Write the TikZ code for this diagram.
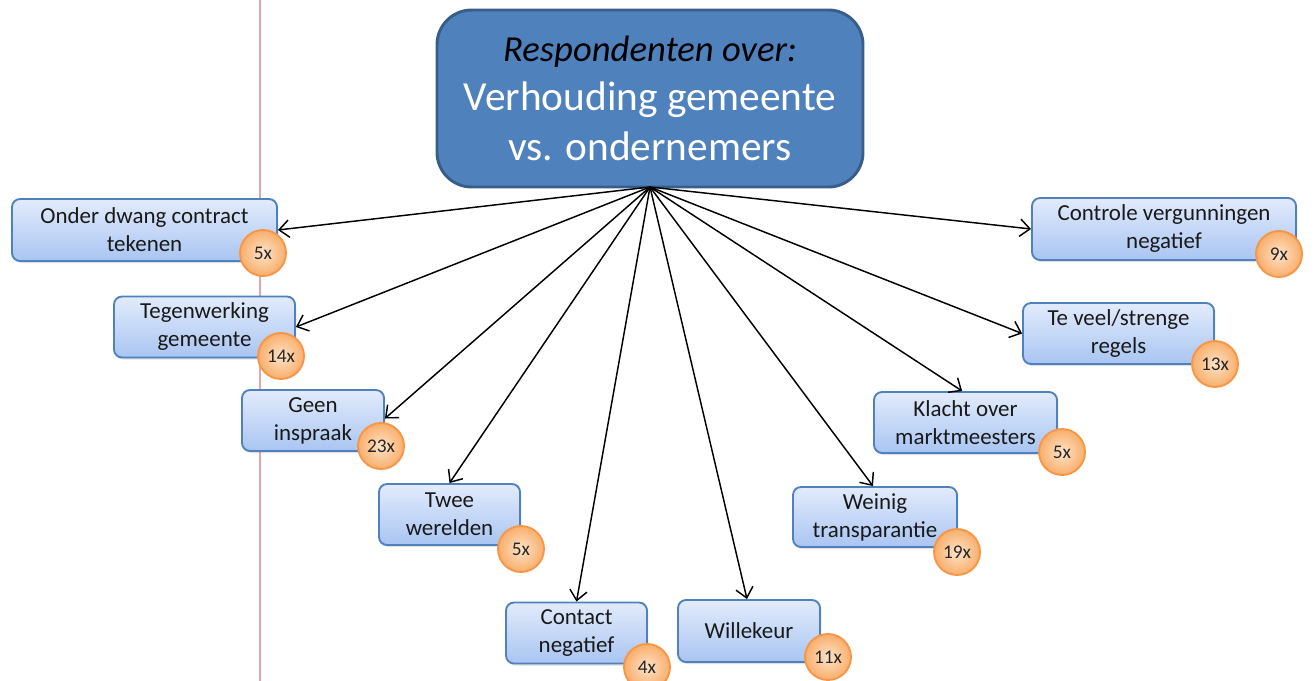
\documentclass[tikz,border=0pt]{standalone}
\usepackage{fontspec}
\setmainfont{Carlito}
\usetikzlibrary{arrows.meta,shadows}
\definecolor{hubfill}{HTML}{4F81BD}
\definecolor{hubline}{HTML}{385D8A}
\definecolor{boxtop}{HTML}{E2EBFB}
\definecolor{boxbot}{HTML}{A9C5F2}
\definecolor{boxline}{HTML}{4F81BD}
\definecolor{badgein}{HTML}{FDE3C9}
\definecolor{badgeout}{HTML}{F9AE6B}
\definecolor{badgeline}{HTML}{F79646}
\definecolor{guide}{HTML}{E0A8A6}
\tikzset{
  topicbox/.style={draw=boxline, line width=1.4pt, rounded corners=6pt,
    top color=boxtop, bottom color=boxbot, align=center, inner sep=0pt,
    font=\fontsize{17.2}{21}\selectfont, text=black!90,
    drop shadow={shadow xshift=1pt, shadow yshift=-1.5pt, opacity=0.25}},
  badge/.style={circle, draw=badgeline, line width=1.4pt, inner sep=0pt,
    minimum size=34.5pt, inner color=badgein, outer color=badgeout,
    font=\fontsize{14.5}{16}\selectfont, text=black!85},
  link/.style={line width=1.1pt, -{Straight Barb[length=7.5pt, width=13pt, line width=1.1pt]}}
}
\begin{document}
\begin{tikzpicture}[x=0.75pt, y=-0.75pt]
  \useasboundingbox (0,0) rectangle (1316,681);
  % thin vertical guide line on the left
  \coordinate (gtop) at (260,0);
  \coordinate (gbot) at (260,681);
  \draw[guide, line width=0.8pt] (gtop) -- (gbot);

  % central topic
  \node[draw=hubline, line width=2.2pt, fill=hubfill, rounded corners=26pt,
        minimum width=426*0.75pt, minimum height=177*0.75pt, inner sep=0pt,
        align=center, font=\fontsize{31}{37.5}\selectfont] (hub) at (650,98.5)
    {{\fontsize{27.5}{36}\selectfont\itshape Respondenten over:}\\[-1pt]
     \textcolor{white}{Verhouding gemeente}\\
     \textcolor{white}{vs. ondernemers}};
  \coordinate (root) at (650,187);

  % statements
  \node[topicbox, minimum width=265*0.75pt, minimum height=62*0.75pt] (onder) at (144.5,230) {Onder dwang contract\\tekenen};
  \node[topicbox, minimum width=181*0.75pt, minimum height=61*0.75pt] (tegen) at (204.5,327) {Tegenwerking\\gemeente};
  \node[topicbox, minimum width=142*0.75pt, minimum height=61*0.75pt] (geen) at (313,420.5) {Geen\\inspraak};
  \node[topicbox, minimum width=141*0.75pt, minimum height=61*0.75pt] (twee) at (449.5,514.5) {Twee\\werelden};
  \node[topicbox, minimum width=141*0.75pt, minimum height=61*0.75pt] (contact) at (576.5,633) {Contact\\negatief};
  \node[topicbox, minimum width=142*0.75pt, minimum height=62*0.75pt] (wille) at (749,631) {Willekeur};
  \node[topicbox, minimum width=164*0.75pt, minimum height=60*0.75pt] (weinig) at (875,517) {Weinig\\transparantie};
  \node[topicbox, minimum width=183*0.75pt, minimum height=61*0.75pt] (klacht) at (965.5,422.5) {Klacht over\\marktmeesters};
  \node[topicbox, minimum width=191*0.75pt, minimum height=61*0.75pt] (teveel) at (1118.5,333.5) {Te veel/strenge\\regels};
  \node[topicbox, minimum width=264*0.75pt, minimum height=62*0.75pt] (controle) at (1164,229) {Controle vergunningen\\negatief};

  % counts
  \node[badge] (b1) at (263,253) {5x};
  \node[badge] (b2) at (281,356) {14x};
  \node[badge] (b3) at (381,446) {23x};
  \node[badge] (b4) at (521,549) {5x};
  \node[badge] (b5) at (647,667) {4x};
  \node[badge] (b6) at (828,657) {11x};
  \node[badge] (b7) at (957,552) {19x};
  \node[badge] (b8) at (1062,452) {5x};
  \node[badge] (b9) at (1215,364) {13x};
  \node[badge] (b10) at (1279,254) {9x};

  % connectors from the central topic
  \draw[link] (root) -- (onder.east);
  \draw[link] (root) -- (tegen.east);
  \draw[link] (root) -- ([yshift=1.5pt]geen.east);
  \draw[link] (root) -- (twee.north);
  \draw[link] (root) -- (contact.north);
  \draw[link] (root) -- ([xshift=-1.5pt]wille.north);
  \draw[link] (root) -- ([xshift=-1.5pt]weinig.north);
  \draw[link] (root) -- ([xshift=-2.5pt]klacht.north);
  \draw[link] (root) -- (teveel.west);
  \draw[link] (root) -- (controle.west);
\end{tikzpicture}
\end{document}
